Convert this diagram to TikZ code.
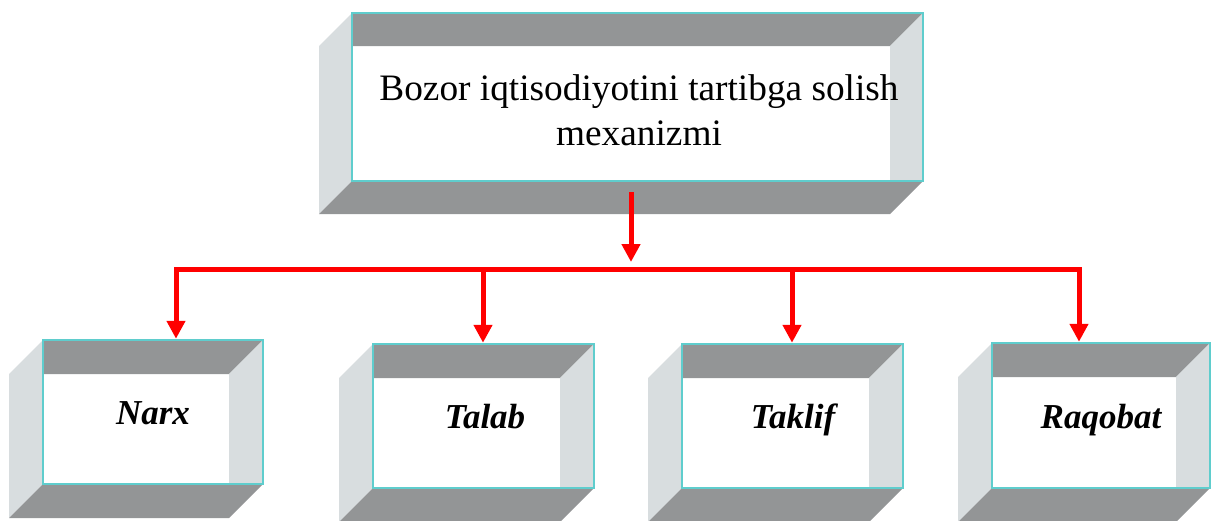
\documentclass[tikz,border=0pt]{standalone}
\usepackage{fontspec}
\setmainfont{Liberation Serif}
\usetikzlibrary{arrows.meta}
\definecolor{darkface}{RGB}{147,149,150}
\definecolor{lightface}{RGB}{216,221,223}
\definecolor{framecyan}{RGB}{95,205,205}
\tikzset{
  darkpart/.style={fill=darkface},
  lightpart/.style={fill=lightface},
  frontframe/.style={draw=framecyan, line width=2.5pt, inner sep=0pt},
  toptext/.style={font=\fontsize{37.3}{45}\selectfont, align=center, inner sep=0pt},
  boxlabel/.style={font=\fontsize{35}{40}\selectfont\bfseries\itshape, anchor=base},
  arr/.style={draw=red, line width=5pt, -{Triangle[length=18pt,width=18pt]}},
  bus/.style={draw=red, line width=5pt, line cap=rect},
}
\newcommand\bevelbox[6]{%
  \fill[lightpart] (#2,#3) -- (#2-#6,#3+#6) -- (#2-#6,#5+#6) -- (#2,#5) -- cycle;
  \fill[darkpart] (#2,#5) -- (#4,#5) -- (#4-#6,#5+#6) -- (#2-#6,#5+#6) -- cycle;
  \fill[darkpart] (#2,#3) -- (#4,#3) -- (#4-#6,#3+#6) -- (#2,#3+#6) -- cycle;
  \fill[lightpart] (#4-#6,#3+#6) -- (#4,#3) -- (#4,#5) -- (#4-#6,#5) -- cycle;
  \node[frontframe, minimum width={#4-#2}, minimum height={#5-#3}] (#1) at ({(#2+#4)/2},{(#3+#5)/2}) {};
}
\begin{document}
\begin{tikzpicture}[x=1pt,y=-1pt]
\useasboundingbox (0,0) rectangle (1211,520);
\bevelbox{top}{352}{13}{923}{181}{33}
\bevelbox{b1}{43}{340}{263}{484}{34}
\bevelbox{b2}{373}{344}{594}{488}{34}
\bevelbox{b3}{682}{344}{903}{488}{34}
\bevelbox{b4}{992}{343}{1210}{488}{34}
\node[toptext] (t0) at (639,110) {Bozor iqtisodiyotini tartibga solish\\mexanizmi};
\node[boxlabel] (t1) at (153,424) {Narx};
\node[boxlabel] (t2) at (485,428) {Talab};
\node[boxlabel] (t3) at (793,428) {Taklif};
\node[boxlabel] (t4) at (1101,428) {Raqobat};
\coordinate (s0) at (631,192);
\coordinate (j) at (631,269.5);
\coordinate (p1) at (176,269.5);
\coordinate (p2) at (483,269.5);
\coordinate (p3) at (792,269.5);
\coordinate (p4) at (1079,269.5);
\draw[bus] (p1) -- (p4);
\draw[arr, shorten >=7.5pt] (s0) -- (j);
\draw[arr] (p1) -- (p1 |- b1.north);
\draw[arr] (p2) -- (p2 |- b2.north);
\draw[arr] (p3) -- (p3 |- b3.north);
\draw[arr] (p4) -- (p4 |- b4.north);
\end{tikzpicture}
\end{document}
